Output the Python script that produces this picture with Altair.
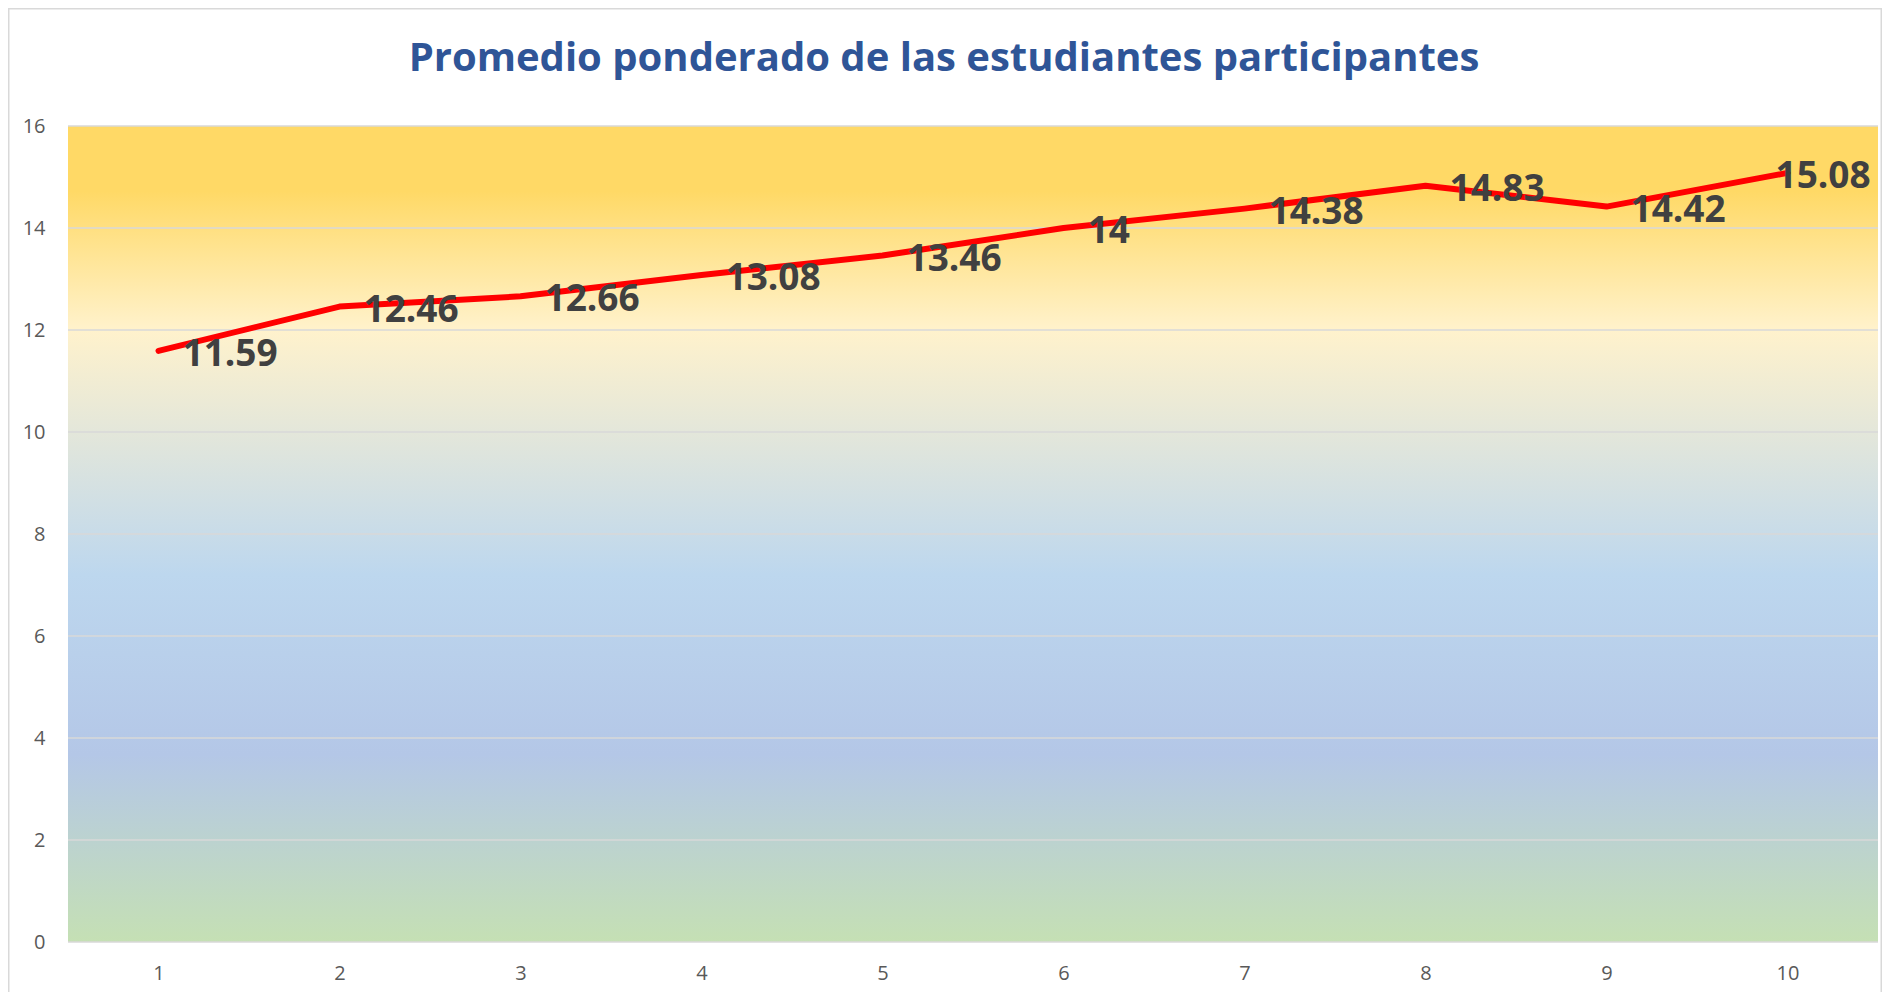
import altair as alt
import pandas as pd

categories = [1, 2, 3, 4, 5, 6, 7, 8, 9, 10]
values = [11.59, 12.46, 12.66, 13.08, 13.46, 14, 14.38, 14.83, 14.42, 15.08]
labels = ["11.59", "12.46", "12.66", "13.08", "13.46", "14", "14.38", "14.83", "14.42", "15.08"]
y_ticks = [0, 2, 4, 6, 8, 10, 12, 14, 16]
title_text = "Promedio ponderado de las estudiantes participantes"

W, H = 1810, 816

df = pd.DataFrame({"cat": [str(c) for c in categories], "val": values, "label": labels})
df_main = df.iloc[:-1]
df_last = df.iloc[-1:]

x_enc = alt.X("cat:O", sort=None, scale=alt.Scale(type="point", padding=0.5),
              axis=alt.Axis(title=None, labelAngle=0, labelPadding=21))
y_scale = alt.Scale(domain=[0, 16], nice=False)
y_axis = alt.Axis(title=None, values=y_ticks, labelPadding=23)

grad = alt.LinearGradient(
    gradient="linear", x1=0, y1=0, x2=0, y2=1,
    stops=[
        alt.GradientStop(color="#FFD966", offset=0),
        alt.GradientStop(color="#FFD966", offset=0.08),
        alt.GradientStop(color="#FFF2CC", offset=0.25),
        alt.GradientStop(color="#BDD7EE", offset=0.55),
        alt.GradientStop(color="#B4C7E7", offset=0.77),
        alt.GradientStop(color="#C5E0B4", offset=1),
    ],
)

bg = alt.Chart(pd.DataFrame({"a": [0]})).mark_rect(color=grad).encode(
    x=alt.value(0), x2=alt.value(W),
    y=alt.Y(datum=16, scale=y_scale, axis=y_axis),
    y2=alt.datum(0),
)

border = alt.Chart(pd.DataFrame({"a": [0]})).mark_rect(
    fill=None, stroke="#D9D9D9", strokeWidth=1.5
).encode(
    x=alt.value(-59.25), x2=alt.value(W + 3.25),
    y=alt.value(-117.25), y2=alt.value(H + 200),
)

grid = alt.Chart(pd.DataFrame({"v": y_ticks})).mark_rule(color="#D9D9D9", strokeWidth=1.5).encode(
    y=alt.Y("v:Q", scale=y_scale, axis=y_axis),
    x=alt.value(0), x2=alt.value(W),
)

line = alt.Chart(df).mark_line(color="#FF0000", strokeWidth=6, strokeCap="round", strokeJoin="round").encode(
    x=x_enc,
    y=alt.Y("val:Q", scale=y_scale, axis=y_axis),
)

text_style = dict(baseline="middle", font="Open Sans", fontWeight="bold", fontSize=37, color="#404040", dy=4)

txt_main = alt.Chart(df_main).mark_text(align="left", dx=24, **text_style).encode(
    x=x_enc, y=alt.Y("val:Q", scale=y_scale, axis=y_axis), text="label:N"
)
txt_last = alt.Chart(df_last).mark_text(align="left", dx=-12, **text_style).encode(
    x=x_enc, y=alt.Y("val:Q", scale=y_scale, axis=y_axis), text="label:N"
)

chart = alt.layer(border, bg, grid, line, txt_main, txt_last).properties(
    width=W, height=H,
    autosize="none",
    padding={"left": 60, "top": 118, "right": 4, "bottom": 50},
    title=alt.TitleParams(
        text=title_text, font="Open Sans", fontSize=40, fontWeight="bold",
        color="#2F5597", anchor="middle", frame="group", offset=-71, dx=-29,
    ),
).configure_axis(
    grid=False, domain=False, ticks=False,
    labelFont="Open Sans", labelFontSize=20, labelColor="#595959",
).configure_view(stroke=None)

chart.save("out.html", embed_options={"renderer": "svg", "actions": False})
